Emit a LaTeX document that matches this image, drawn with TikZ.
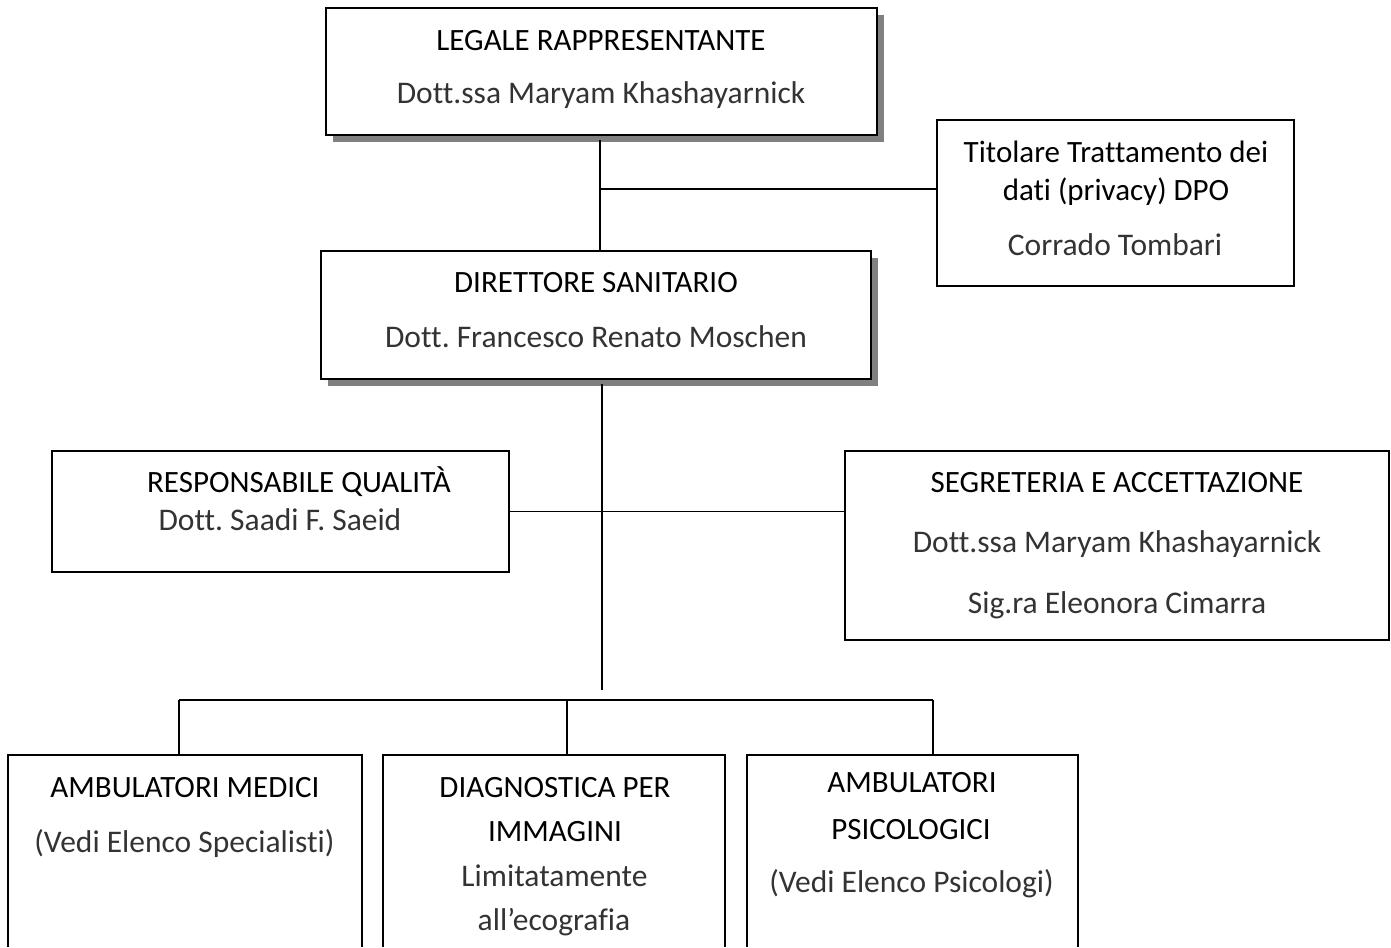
\documentclass[tikz,border=0pt]{standalone}
\usepackage{fontspec}
\setmainfont{Carlito}[RawFeature={-liga;-clig;-calt}]
\usetikzlibrary{positioning,shadows}
\frenchspacing

\tikzset{
	box/.style={draw, line width=1.6pt, fill=white, inner sep=0pt},
	shbox/.style={box, drop shadow={shadow xshift=7pt, shadow yshift=-7pt, fill=black!50, opacity=1}},
	openbox/.style={inner sep=0pt},
	head/.style={inner sep=0pt, yshift=-7pt, text height=0.644em, text depth=0pt, font=\fontsize{31}{36}\selectfont},
	who/.style={head, text=black!80, font=\fontsize{31.5}{36}\selectfont},
	conn/.style={line width=1.7pt}
}

\begin{document}
\begin{tikzpicture}[x=1pt,y=-1pt]
		\useasboundingbox (0,0) rectangle (1391,947);
		
		% boxes
		\node[shbox, minimum width=551pt, minimum height=127pt] (legale) at (601.5,71.5) {};
		\node[box, minimum width=357pt, minimum height=166pt] (dpo) at (1115.5,203) {};
		\node[shbox, minimum width=550pt, minimum height=128pt] (dir) at (596,315) {};
		\node[box, minimum width=457pt, minimum height=121pt] (qual) at (280.5,511.5) {};
		\node[box, minimum width=544pt, minimum height=189pt] (segr) at (1117,545.5) {};
		\node[openbox, minimum width=354pt, minimum height=192pt] (med) at (185,851) {};
		\node[openbox, minimum width=342pt, minimum height=192pt] (diag) at (554,851) {};
		\node[openbox, minimum width=331pt, minimum height=192pt] (psi) at (912.5,851) {};
		\foreach \b in {med,diag,psi}
			\draw[conn] (\b.south west) |- (\b.north east) -- (\b.south east);
		
		% texts
		\node[head] (legaleA) at (601,40) {LEGALE RAPPRESENTANTE};
		\node[who] (legaleB) at (601,93) {Dott.ssa Maryam Khashayarnick};
		\node[head] (dpoA) at (1116,152) {Titolare Trattamento dei};
		\node[head] (dpoB) at (1116,190) {dati (privacy) DPO};
		\node[who] (dpoC) at (1115,245) {Corrado Tombari};
		\node[head] (dirA) at (596,282) {DIRETTORE SANITARIO};
		\node[who] (dirB) at (596,337) {Dott. Francesco Renato Moschen};
		\node[head] (qualA) at (299,482) {RESPONSABILE QUALITÀ};
		\node[who] (qualB) at (280,520) {Dott. Saadi F. Saeid};
		\node[head] (segrA) at (1117,482) {SEGRETERIA E ACCETTAZIONE};
		\node[who] (segrB) at (1117,542) {Dott.ssa Maryam Khashayarnick};
		\node[who] (segrC) at (1117,603) {Sig.ra Eleonora Cimarra};
		\node[head] (medA) at (185,787) {AMBULATORI MEDICI};
		\node[who] (medB) at (184.5,842) {(Vedi Elenco Specialisti)};
		\node[head] (diagA) at (555,787) {DIAGNOSTICA PER};
		\node[head] (diagB) at (555,831) {IMMAGINI};
		\node[who] (diagC) at (554.5,876) {Limitatamente};
		\node[who] (diagD) at (554,920) {all’ecografia};
		\node[head] (psiA) at (912,782) {AMBULATORI};
		\node[head] (psiB) at (911,829) {PSICOLOGICI};
		\node[who] (psiC) at (911.5,882) {(Vedi Elenco Psicologi)};
		
		% connectors
		\coordinate (j1) at (600,140);
		\coordinate (j2) at (600,189);
		\coordinate (j3) at (602,384);
		\coordinate (j4) at (602,690);
		\coordinate (busL) at (179,700);
		\coordinate (busM) at (567,700);
		\coordinate (busR) at (933,700);
		\draw[conn] (j1) -- (j1 |- dir.north);
		\draw[conn] (j2) -- (j2 -| dpo.west);
		\draw[conn] (j3) -- (j4);
		\draw[conn] (qual.east) -- (qual.east -| segr.west);
		\draw[conn] (busL) -- (busR);
		\draw[conn] (busL) -- (busL |- med.north);
		\draw[conn] (busM) -- (busM |- diag.north);
		\draw[conn] (busR) -- (busR |- psi.north);
	\end{tikzpicture}
\end{document}
